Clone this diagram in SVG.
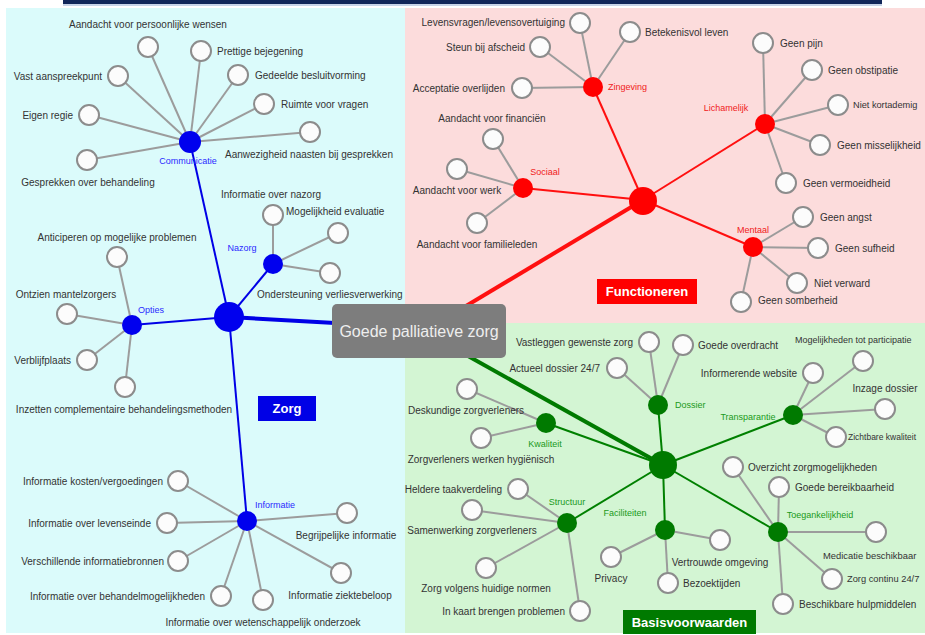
<svg xmlns="http://www.w3.org/2000/svg" width="925" height="635" viewBox="0 0 925 635">
<style>
text{font-family:"Liberation Sans",Arial,sans-serif;dominant-baseline:central}
.t{font-size:10px;fill:#333}
.e{text-anchor:end}.m{text-anchor:middle}
.lf circle{fill:#fcfcfc;stroke:#8c8c8c;stroke-width:2}
.gl{stroke:#9c9c9c;stroke-width:2}
.bl{stroke:#0000e6;stroke-width:2}
.rl{stroke:#ff1010;stroke-width:2}
.grl{stroke:#008000;stroke-width:2}
.sub{font-size:9px}
.cat{font-size:13px;font-weight:bold;fill:#fff;text-anchor:middle}
</style>
<rect width="925" height="635" fill="#fff"/>
<rect x="63" y="0" width="819" height="4" fill="#112659"/>
<line x1="63" y1="5" x2="882" y2="5" stroke="#8ea6cf" stroke-width="1"/>
<rect x="6" y="8" width="399" height="625" fill="#dbfbfb"/>
<rect x="405" y="8" width="520" height="315" fill="#fcdcdc"/>
<rect x="405" y="323" width="520" height="310" fill="#d3f5d3"/>

<g id="connectors" fill="none">
<line x1="229" y1="317" x2="335" y2="323" stroke="#0000e6" stroke-width="4"/>
<line x1="466" y1="306" x2="643" y2="200" stroke="#ff1010" stroke-width="4"/>
<line x1="468" y1="356" x2="663" y2="465" stroke="#007a00" stroke-width="4"/>
<line class="bl" x1="229" y1="317" x2="190" y2="142"/>
<line class="bl" x1="229" y1="317" x2="273" y2="264"/>
<line class="bl" x1="229" y1="317" x2="132" y2="325"/>
<line class="bl" x1="229" y1="317" x2="247" y2="521"/>
<line class="rl" x1="643" y1="200" x2="593" y2="87"/>
<line class="rl" x1="643" y1="200" x2="765" y2="124"/>
<line class="rl" x1="643" y1="200" x2="523" y2="188"/>
<line class="rl" x1="643" y1="200" x2="753" y2="247"/>
<line class="grl" x1="663" y1="465" x2="658" y2="405"/>
<line class="grl" x1="663" y1="465" x2="793" y2="415"/>
<line class="grl" x1="663" y1="465" x2="546" y2="423"/>
<line class="grl" x1="663" y1="465" x2="567" y2="523"/>
<line class="grl" x1="663" y1="465" x2="665" y2="530"/>
<line class="grl" x1="663" y1="465" x2="778" y2="532"/>
<g class="gl">
<line x1="190" y1="142" x2="148" y2="47"/>
<line x1="190" y1="142" x2="201" y2="51"/>
<line x1="190" y1="142" x2="118" y2="76"/>
<line x1="190" y1="142" x2="238" y2="75"/>
<line x1="190" y1="142" x2="264" y2="104"/>
<line x1="190" y1="142" x2="89" y2="115"/>
<line x1="190" y1="142" x2="310" y2="132"/>
<line x1="190" y1="142" x2="87" y2="160"/>
<line x1="273" y1="264" x2="273" y2="215"/>
<line x1="273" y1="264" x2="338" y2="233"/>
<line x1="273" y1="264" x2="330" y2="273"/>
<line x1="132" y1="325" x2="117" y2="257"/>
<line x1="132" y1="325" x2="67" y2="314"/>
<line x1="132" y1="325" x2="87" y2="360"/>
<line x1="132" y1="325" x2="125" y2="387"/>
<line x1="247" y1="521" x2="178" y2="481"/>
<line x1="247" y1="521" x2="167" y2="523"/>
<line x1="247" y1="521" x2="178" y2="561"/>
<line x1="247" y1="521" x2="221" y2="596"/>
<line x1="247" y1="521" x2="263" y2="600"/>
<line x1="247" y1="521" x2="341" y2="573"/>
<line x1="247" y1="521" x2="347" y2="513"/>
<line x1="593" y1="87" x2="580" y2="23"/>
<line x1="593" y1="87" x2="630" y2="32"/>
<line x1="593" y1="87" x2="540" y2="47"/>
<line x1="593" y1="87" x2="522" y2="88"/>
<line x1="765" y1="124" x2="763" y2="43"/>
<line x1="765" y1="124" x2="812" y2="70"/>
<line x1="765" y1="124" x2="838" y2="105"/>
<line x1="765" y1="124" x2="820" y2="145"/>
<line x1="765" y1="124" x2="786" y2="183"/>
<line x1="523" y1="188" x2="493" y2="139"/>
<line x1="523" y1="188" x2="457" y2="169"/>
<line x1="523" y1="188" x2="477" y2="223"/>
<line x1="753" y1="247" x2="803" y2="217"/>
<line x1="753" y1="247" x2="818" y2="248"/>
<line x1="753" y1="247" x2="797" y2="283"/>
<line x1="753" y1="247" x2="741" y2="302"/>
<line x1="658" y1="405" x2="649" y2="342"/>
<line x1="658" y1="405" x2="683" y2="345"/>
<line x1="658" y1="405" x2="617" y2="368"/>
<line x1="793" y1="415" x2="863" y2="361"/>
<line x1="793" y1="415" x2="813" y2="373"/>
<line x1="793" y1="415" x2="885" y2="409"/>
<line x1="793" y1="415" x2="836" y2="437"/>
<line x1="546" y1="423" x2="467" y2="389"/>
<line x1="546" y1="423" x2="481" y2="438"/>
<line x1="567" y1="523" x2="518" y2="489"/>
<line x1="567" y1="523" x2="472" y2="510"/>
<line x1="567" y1="523" x2="486" y2="568"/>
<line x1="567" y1="523" x2="580" y2="611"/>
<line x1="665" y1="530" x2="611" y2="557"/>
<line x1="665" y1="530" x2="720" y2="540"/>
<line x1="665" y1="530" x2="668" y2="583"/>
<line x1="778" y1="532" x2="733" y2="467"/>
<line x1="778" y1="532" x2="779" y2="487"/>
<line x1="778" y1="532" x2="876" y2="532"/>
<line x1="778" y1="532" x2="832" y2="579"/>
<line x1="778" y1="532" x2="783" y2="604"/>
</g>
</g>

<g id="goede-palliatieve-zorg">
<rect x="332" y="304" width="174" height="54" rx="5" fill="#7d7d7d"/>
<text x="419" y="331" class="m" font-size="16" fill="#eeeeee">Goede palliatieve zorg</text>
</g>

<g id="zorg"><circle cx="229" cy="317" r="15" fill="#0000ee"/>
<rect x="258" y="396" width="58" height="25" fill="#0000e6"/><text x="287" y="408.5" class="cat">Zorg</text></g>
<g id="functioneren"><circle cx="643" cy="201" r="14" fill="#ff0000"/>
<rect x="597" y="279" width="100" height="25" fill="#ff0000"/><text x="647" y="291.5" class="cat">Functioneren</text></g>
<g id="basisvoorwaarden"><circle cx="663" cy="465" r="14" fill="#007a00"/>
<rect x="623" y="610" width="133" height="24" fill="#007a00"/><text x="689.5" y="622" class="cat">Basisvoorwaarden</text></g>

<g id="communicatie"><circle cx="190" cy="142" r="11" fill="#0000ee"/><text x="188" y="161" class="m sub" fill="#2a2aff">Communicatie</text></g>
<g id="nazorg"><circle cx="273" cy="264" r="10" fill="#0000ee"/><text x="242" y="248" class="m sub" fill="#2a2aff">Nazorg</text></g>
<g id="opties"><circle cx="132" cy="325" r="10" fill="#0000ee"/><text x="151" y="310" class="m sub" fill="#2a2aff">Opties</text></g>
<g id="informatie"><circle cx="247" cy="521" r="10" fill="#0000ee"/><text x="275" y="505" class="m sub" fill="#2a2aff">Informatie</text></g>

<g id="zingeving"><circle cx="593" cy="87" r="10" fill="#ff0000"/><text x="608" y="87" class="sub" fill="#f02020">Zingeving</text></g>
<g id="lichamelijk"><circle cx="765" cy="124" r="10" fill="#ff0000"/><text x="726" y="108" class="m sub" fill="#f02020">Lichamelijk</text></g>
<g id="sociaal"><circle cx="523" cy="188" r="10" fill="#ff0000"/><text x="545" y="172" class="m sub" fill="#f02020">Sociaal</text></g>
<g id="mentaal"><circle cx="753" cy="247" r="10" fill="#ff0000"/><text x="753" y="230" class="m sub" fill="#f02020">Mentaal</text></g>

<g id="dossier"><circle cx="658" cy="405" r="10" fill="#007a00"/><text x="675" y="405" class="sub" fill="#1a9a1a">Dossier</text></g>
<g id="transparantie"><circle cx="793" cy="415" r="10" fill="#007a00"/><text x="748" y="417" class="m sub" fill="#1a9a1a">Transparantie</text></g>
<g id="kwaliteit"><circle cx="546" cy="423" r="10" fill="#007a00"/><text x="545" y="444" class="m sub" fill="#1a9a1a">Kwaliteit</text></g>
<g id="structuur"><circle cx="567" cy="523" r="10" fill="#007a00"/><text x="567" y="502" class="m sub" fill="#1a9a1a">Structuur</text></g>
<g id="faciliteiten"><circle cx="665" cy="530" r="10" fill="#007a00"/><text x="625" y="513" class="m sub" fill="#1a9a1a">Faciliteiten</text></g>
<g id="toegankelijkheid"><circle cx="778" cy="532" r="10" fill="#007a00"/><text x="820" y="515" class="m sub" fill="#1a9a1a">Toegankelijkheid</text></g>

<g id="l-persoonlijke-wensen" class="lf"><circle cx="148" cy="47" r="10"/><text x="148" y="24" class="t m">Aandacht voor persoonlijke wensen</text></g>
<g id="l-prettige-bejegening" class="lf"><circle cx="201" cy="51" r="10"/><text x="217" y="51" class="t">Prettige bejegening</text></g>
<g id="l-vast-aanspreekpunt" class="lf"><circle cx="118" cy="76" r="10"/><text x="102" y="76" class="t e">Vast aanspreekpunt</text></g>
<g id="l-gedeelde-besluitvorming" class="lf"><circle cx="238" cy="75" r="10"/><text x="255" y="75" class="t">Gedeelde besluitvorming</text></g>
<g id="l-ruimte-voor-vragen" class="lf"><circle cx="264" cy="104" r="10"/><text x="281" y="104" class="t">Ruimte voor vragen</text></g>
<g id="l-eigen-regie" class="lf"><circle cx="89" cy="115" r="10"/><text x="73" y="115" class="t e">Eigen regie</text></g>
<g id="l-aanwezigheid-naasten" class="lf"><circle cx="310" cy="132" r="10"/><text x="309" y="154" class="t m">Aanwezigheid naasten bij gesprekken</text></g>
<g id="l-gesprekken-behandeling" class="lf"><circle cx="87" cy="160" r="10"/><text x="88" y="182" class="t m">Gesprekken over behandeling</text></g>
<g id="l-mogelijkheid-evaluatie" class="lf"><circle cx="273" cy="215" r="10"/><text x="286" y="211" class="t">Mogelijkheid evaluatie</text></g>
<g id="l-informatie-nazorg" class="lf"><circle cx="338" cy="233" r="10"/><text x="221" y="194" class="t">Informatie over nazorg</text></g>
<g id="l-ondersteuning-verliesverwerking" class="lf"><circle cx="330" cy="273" r="10"/><text x="257" y="294" class="t">Ondersteuning verliesverwerking</text></g>
<g id="l-anticiperen" class="lf"><circle cx="117" cy="257" r="10"/><text x="117" y="237" class="t m">Anticiperen op mogelijke problemen</text></g>
<g id="l-ontzien-mantelzorgers" class="lf"><circle cx="67" cy="314" r="10"/><text x="66" y="294" class="t m">Ontzien mantelzorgers</text></g>
<g id="l-verblijfplaats" class="lf"><circle cx="87" cy="360" r="10"/><text x="71" y="360" class="t e">Verblijfplaats</text></g>
<g id="l-inzetten-complementaire" class="lf"><circle cx="125" cy="387" r="10"/><text x="124" y="409" class="t m">Inzetten complementaire behandelingsmethoden</text></g>
<g id="l-informatie-kosten" class="lf"><circle cx="178" cy="481" r="10"/><text x="163" y="481" class="t e">Informatie kosten/vergoedingen</text></g>
<g id="l-informatie-levenseinde" class="lf"><circle cx="167" cy="523" r="10"/><text x="151" y="523" class="t e">Informatie over levenseinde</text></g>
<g id="l-verschillende-bronnen" class="lf"><circle cx="178" cy="561" r="10"/><text x="164" y="561" class="t e">Verschillende informatiebronnen</text></g>
<g id="l-informatie-behandelmogelijkheden" class="lf"><circle cx="221" cy="596" r="10"/><text x="205" y="596" class="t e">Informatie over behandelmogelijkheden</text></g>
<g id="l-informatie-wetenschappelijk" class="lf"><circle cx="263" cy="600" r="10"/><text x="263" y="622" class="t m">Informatie over wetenschappelijk onderzoek</text></g>
<g id="l-informatie-ziektebeloop" class="lf"><circle cx="341" cy="573" r="10"/><text x="340" y="595" class="t m">Informatie ziektebeloop</text></g>
<g id="l-begrijpelijke-informatie" class="lf"><circle cx="347" cy="513" r="10"/><text x="346" y="535" class="t m">Begrijpelijke informatie</text></g>
<g id="l-levensvragen" class="lf"><circle cx="580" cy="23" r="10"/><text x="565" y="22" class="t e">Levensvragen/levensovertuiging</text></g>
<g id="l-betekenisvol-leven" class="lf"><circle cx="630" cy="32" r="10"/><text x="645" y="32" class="t">Betekenisvol leven</text></g>
<g id="l-steun-afscheid" class="lf"><circle cx="540" cy="47" r="10"/><text x="525" y="47" class="t e">Steun bij afscheid</text></g>
<g id="l-acceptatie-overlijden" class="lf"><circle cx="522" cy="88" r="10"/><text x="505" y="88" class="t e">Acceptatie overlijden</text></g>
<g id="l-geen-pijn" class="lf"><circle cx="763" cy="43" r="10"/><text x="780" y="43" class="t">Geen pijn</text></g>
<g id="l-geen-obstipatie" class="lf"><circle cx="812" cy="70" r="10"/><text x="828" y="70" class="t">Geen obstipatie</text></g>
<g id="l-niet-kortademig" class="lf"><circle cx="838" cy="105" r="10"/><text x="853" y="105" class="t" style="font-size:9.2px">Niet kortademig</text></g>
<g id="l-geen-misselijkheid" class="lf"><circle cx="820" cy="145" r="10"/><text x="837" y="145" class="t">Geen misselijkheid</text></g>
<g id="l-geen-vermoeidheid" class="lf"><circle cx="786" cy="183" r="10"/><text x="803" y="183" class="t">Geen vermoeidheid</text></g>
<g id="l-aandacht-financien" class="lf"><circle cx="493" cy="139" r="10"/><text x="492" y="118" class="t m">Aandacht voor financiën</text></g>
<g id="l-aandacht-werk" class="lf"><circle cx="457" cy="169" r="10"/><text x="457" y="190" class="t m">Aandacht voor werk</text></g>
<g id="l-aandacht-familieleden" class="lf"><circle cx="477" cy="223" r="10"/><text x="477" y="244" class="t m">Aandacht voor familieleden</text></g>
<g id="l-geen-angst" class="lf"><circle cx="803" cy="217" r="10"/><text x="820" y="217" class="t">Geen angst</text></g>
<g id="l-geen-sufheid" class="lf"><circle cx="818" cy="248" r="10"/><text x="835" y="248" class="t">Geen sufheid</text></g>
<g id="l-niet-verward" class="lf"><circle cx="797" cy="283" r="10"/><text x="814" y="283" class="t">Niet verward</text></g>
<g id="l-geen-somberheid" class="lf"><circle cx="741" cy="302" r="10"/><text x="758" y="300" class="t">Geen somberheid</text></g>
<g id="l-vastleggen-zorg" class="lf"><circle cx="649" cy="342" r="10"/><text x="633" y="342" class="t e">Vastleggen gewenste zorg</text></g>
<g id="l-goede-overdracht" class="lf"><circle cx="683" cy="345" r="10"/><text x="698" y="345" class="t">Goede overdracht</text></g>
<g id="l-actueel-dossier" class="lf"><circle cx="617" cy="368" r="10"/><text x="600" y="368" class="t e">Actueel dossier 24/7</text></g>
<g id="l-participatie" class="lf"><circle cx="863" cy="361" r="10"/><text x="795" y="340" class="t" style="font-size:9px">Mogelijkheden tot participatie</text></g>
<g id="l-informerende-website" class="lf"><circle cx="813" cy="373" r="10"/><text x="797" y="373" class="t e">Informerende website</text></g>
<g id="l-inzage-dossier" class="lf"><circle cx="885" cy="409" r="10"/><text x="885" y="388" class="t m">Inzage dossier</text></g>
<g id="l-zichtbare-kwaliteit" class="lf"><circle cx="836" cy="437" r="10"/><text x="848" y="437" class="t" style="font-size:8.5px">Zichtbare kwaliteit</text></g>
<g id="l-deskundige-zorgverleners" class="lf"><circle cx="467" cy="389" r="10"/><text x="466" y="410" class="t m">Deskundige zorgverleners</text></g>
<g id="l-hygienisch" class="lf"><circle cx="481" cy="438" r="10"/><text x="481" y="459" class="t m">Zorgverleners werken hygiënisch</text></g>
<g id="l-heldere-taakverdeling" class="lf"><circle cx="518" cy="489" r="10"/><text x="502" y="489" class="t e">Heldere taakverdeling</text></g>
<g id="l-samenwerking" class="lf"><circle cx="472" cy="510" r="10"/><text x="472" y="530" class="t m">Samenwerking zorgverleners</text></g>
<g id="l-huidige-normen" class="lf"><circle cx="486" cy="568" r="10"/><text x="486" y="588" class="t m">Zorg volgens huidige normen</text></g>
<g id="l-in-kaart-brengen" class="lf"><circle cx="580" cy="611" r="10"/><text x="565" y="611" class="t e">In kaart brengen problemen</text></g>
<g id="l-privacy" class="lf"><circle cx="611" cy="557" r="10"/><text x="611" y="578" class="t m">Privacy</text></g>
<g id="l-vertrouwde-omgeving" class="lf"><circle cx="720" cy="540" r="10"/><text x="720" y="562" class="t m">Vertrouwde omgeving</text></g>
<g id="l-bezoektijden" class="lf"><circle cx="668" cy="583" r="10"/><text x="683" y="583" class="t">Bezoektijden</text></g>
<g id="l-overzicht-zorgmogelijkheden" class="lf"><circle cx="733" cy="467" r="10"/><text x="748" y="467" class="t">Overzicht zorgmogelijkheden</text></g>
<g id="l-goede-bereikbaarheid" class="lf"><circle cx="779" cy="487" r="10"/><text x="795" y="487" class="t">Goede bereikbaarheid</text></g>
<g id="l-medicatie-beschikbaar" class="lf"><circle cx="876" cy="532" r="10"/><text x="823" y="555" class="t" style="font-size:9.4px">Medicatie beschikbaar</text></g>
<g id="l-zorg-continu" class="lf"><circle cx="832" cy="579" r="10"/><text x="847" y="579" class="t" style="font-size:9.3px">Zorg continu 24/7</text></g>
<g id="l-beschikbare-hulpmiddelen" class="lf"><circle cx="783" cy="604" r="10"/><text x="799" y="604" class="t">Beschikbare hulpmiddelen</text></g>
</svg>
